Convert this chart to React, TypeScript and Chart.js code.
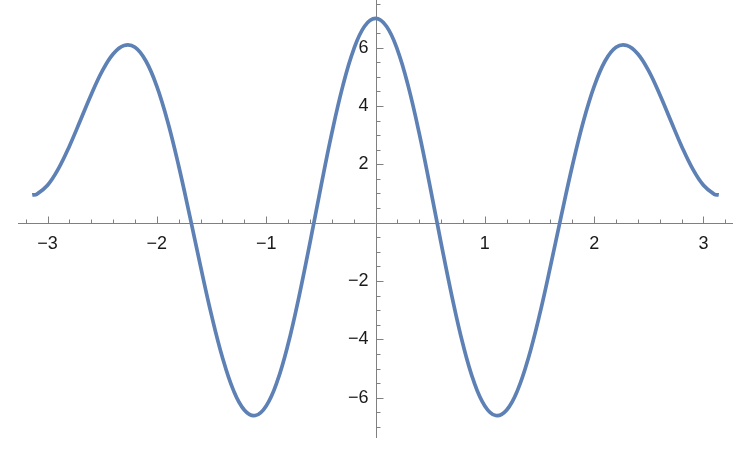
import React, { useEffect, useRef } from 'react';
import { Chart, registerables } from 'chart.js';

Chart.register(...registerables);

// curve samples (x, f(x))
const xValues = [
  -3.14, -3.1, -3.0, -2.9, -2.8, -2.7, -2.6, -2.5, -2.4, -2.3, -2.2, -2.1, -2.0,
  -1.9, -1.8, -1.7, -1.6, -1.5, -1.4, -1.3, -1.2, -1.1, -1.0, -0.9, -0.8, -0.7,
  -0.6, -0.5, -0.4, -0.3, -0.2, -0.1, 0, 0.1, 0.2, 0.3, 0.4, 0.5, 0.6, 0.7, 0.8,
  0.9, 1.0, 1.1, 1.2, 1.3, 1.4, 1.5, 1.6, 1.7, 1.8, 1.9, 2.0, 2.1, 2.2, 2.3, 2.4,
  2.5, 2.6, 2.7, 2.8, 2.9, 3.0, 3.1, 3.14,
];
const yValues = [
  0.95, 0.97, 1.28, 1.85, 2.62, 3.5, 4.39, 5.19, 5.78, 6.07, 6.01, 5.54, 4.67,
  3.45, 1.94, 0.25, -1.5, -3.17, -4.62, -5.74, -6.42, -6.61, -6.28, -5.45, -4.17, -2.54,
  -0.7, 1.22, 3.06, 4.67, 5.93, 6.73, 7.0, 6.73, 5.93, 4.67, 3.06, 1.22, -0.7, -2.54, -4.17,
  -5.45, -6.28, -6.61, -6.42, -5.74, -4.62, -3.17, -1.5, 0.25, 1.94, 3.45, 4.67, 5.54, 6.01, 6.07, 5.78,
  5.19, 4.39, 3.5, 2.62, 1.85, 1.28, 0.97, 0.95,
];

const xTickValues = [-3, -2, -1, 1, 2, 3];
const yTickValues = [-6, -4, -2, 2, 4, 6];

const LINE_COLOR = '#5e81b5';
const AXIS_COLOR = '#808080';
const LABEL_COLOR = '#1a1a1a';
const FONT_FAMILY = '"Liberation Sans", Arial, sans-serif';
const FONT_SIZE = 18;

const fmt = (v: number) => (v < 0 ? '\u2212' + Math.abs(v) : String(v));

// Mathematica-style axes through the origin with major / minor tick marks
const originAxes = {
  id: 'originAxes',
  beforeDatasetsDraw(chart: any) {
    const { ctx, chartArea, scales } = chart;
    const sx = scales.x;
    const sy = scales.y;
    const x0 = Math.round(sx.getPixelForValue(0)) + 0.5;
    const y0 = Math.round(sy.getPixelForValue(0)) + 0.5;
    ctx.save();
    ctx.strokeStyle = AXIS_COLOR;
    ctx.lineWidth = 1;
    ctx.beginPath();
    ctx.moveTo(chartArea.left, y0);
    ctx.lineTo(chartArea.right, y0);
    ctx.moveTo(x0, chartArea.top);
    ctx.lineTo(x0, chartArea.bottom);
    for (let i = -16; i <= 16; i++) {
      if (i === 0) continue;
      const px = Math.round(sx.getPixelForValue(i * 0.2)) + 0.5;
      const len = i % 5 === 0 ? 7 : 4;
      ctx.moveTo(px, y0);
      ctx.lineTo(px, y0 - len);
    }
    for (let i = -14; i <= 15; i++) {
      if (i === 0) continue;
      const py = Math.round(sy.getPixelForValue(i * 0.5)) + 0.5;
      const len = i % 4 === 0 ? 7 : 4;
      ctx.moveTo(x0, py);
      ctx.lineTo(x0 + len, py);
    }
    ctx.stroke();

    // y tick labels sit left of the vertical axis
    ctx.fillStyle = LABEL_COLOR;
    ctx.font = `${FONT_SIZE}px ${FONT_FAMILY}`;
    ctx.textAlign = 'right';
    ctx.textBaseline = 'middle';
    yTickValues.forEach((v) => {
      ctx.fillText(fmt(v), x0 - 8, sy.getPixelForValue(v));
    });
    ctx.restore();
  },
};

export default function App() {
  const canvasRef = useRef<HTMLCanvasElement | null>(null);

  useEffect(() => {
    if (!canvasRef.current) return;
    const points = xValues.map((x, i) => ({ x, y: yValues[i] }));

    const chart = new Chart(canvasRef.current, {
      type: 'line',
      data: {
        datasets: [
          {
            data: points,
            borderColor: LINE_COLOR,
            borderWidth: 3.7,
            pointRadius: 0,
            tension: 0.4,
            fill: false,
          },
        ],
      },
      options: {
        responsive: false,
        animation: false,
        layout: { padding: { left: 18, right: 17, top: 0, bottom: 22 } },
        plugins: { legend: { display: false }, tooltip: { enabled: false } },
        scales: {
          x: {
            type: 'linear',
            min: -3.27,
            max: 3.27,
            position: { y: 0 },
            grid: { display: false, drawTicks: false },
            border: { display: false },
            afterFit: (s: any) => {
              s.height = 0;
              s.paddingLeft = 0;
              s.paddingRight = 0;
              s.paddingTop = 0;
              s.paddingBottom = 0;
            },
            afterBuildTicks: (s: any) => {
              s.ticks = xTickValues.map((value) => ({ value }));
            },
            ticks: {
              autoSkip: false,
              maxRotation: 0,
              padding: 11,
              color: LABEL_COLOR,
              font: { family: FONT_FAMILY, size: FONT_SIZE },
              callback: (v: any) => fmt(Number(v)),
            },
          },
          y: {
            type: 'linear',
            min: -7.38,
            max: 7.63,
            position: { x: 0 },
            grid: { display: false, drawTicks: false },
            border: { display: false },
            afterFit: (s: any) => {
              s.width = 0;
              s.paddingLeft = 0;
              s.paddingRight = 0;
              s.paddingTop = 0;
              s.paddingBottom = 0;
            },
            afterBuildTicks: (s: any) => {
              s.ticks = yTickValues.map((value) => ({ value }));
            },
            ticks: { display: false },
          },
        },
      },
      plugins: [originAxes],
    });

    return () => {
      chart.destroy();
    };
  }, []);

  return (
    <div style={{ position: 'absolute', left: 0, top: 0, width: 750, height: 460, background: '#fff' }}>
      <canvas ref={canvasRef} width={750} height={460}></canvas>
    </div>
  );
}
